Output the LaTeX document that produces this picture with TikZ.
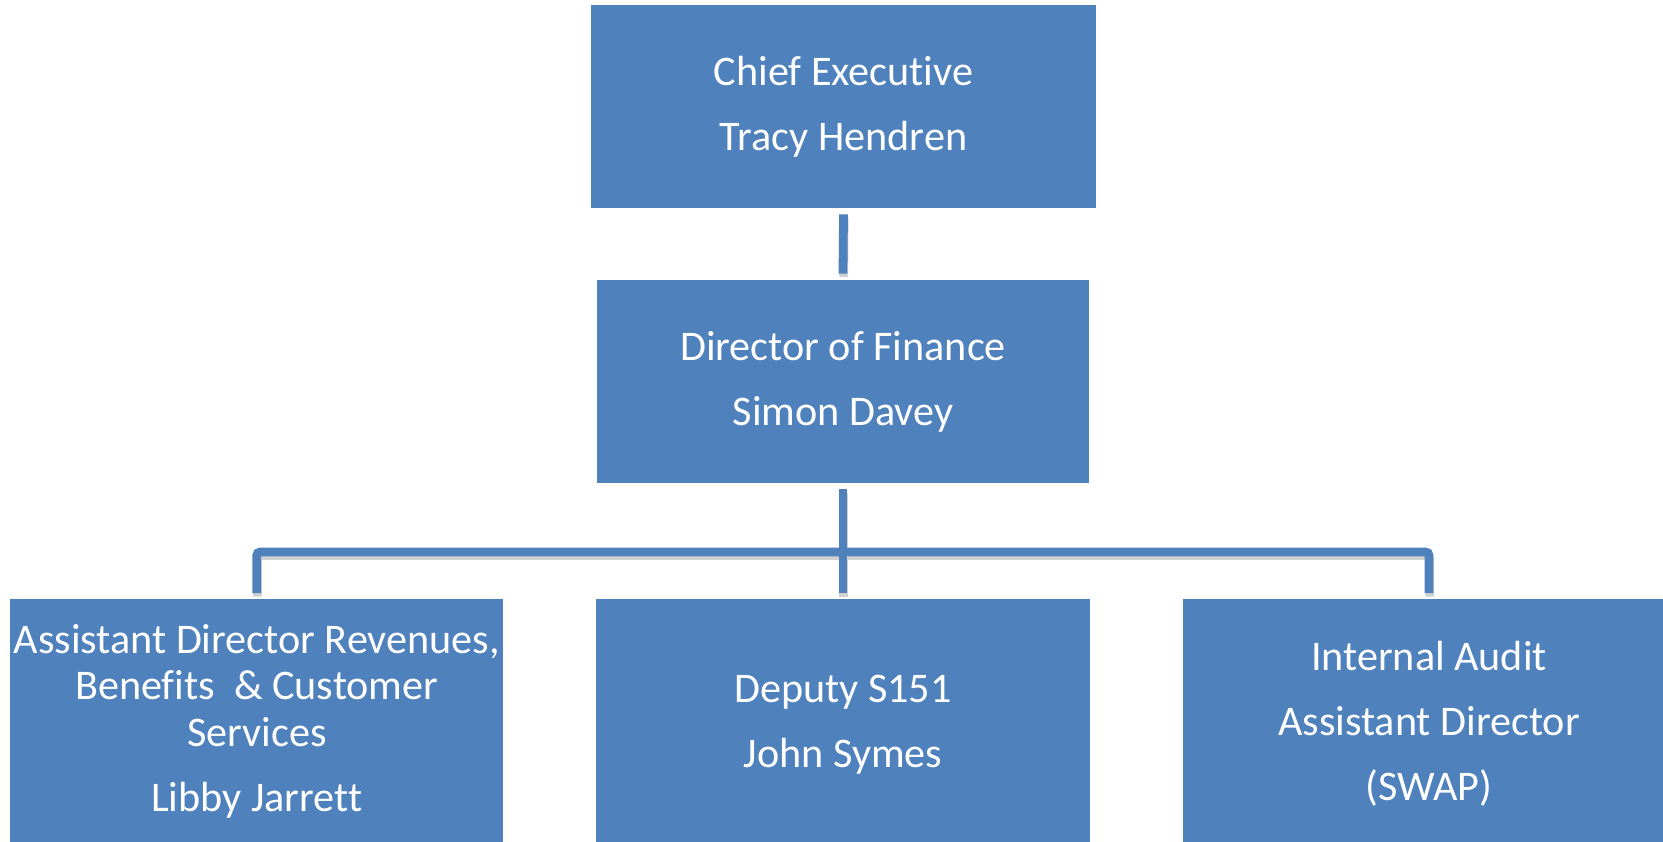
\documentclass[tikz,border=0pt]{standalone}
\usepackage{fontspec}
\setmainfont[Ligatures=NoCommon, Contextuals=NoAlternate, RawFeature={-liga;-clig;-calt}]{Carlito}
\definecolor{boxblue}{HTML}{4F81BD}
\begin{document}
\begin{tikzpicture}[
		box/.style={fill=boxblue, text=white, align=center, inner sep=0pt, minimum height=4.06cm,
			font=\fontsize{24}{26.5}\selectfont},
		link/.style={draw=boxblue, line width=5pt, rounded corners=2pt,
			preaction={draw=black!18, line width=5pt, transform canvas={shift={(0.4pt,-2pt)}}}}]
		\clip (0, 0) rectangle (33.26, -16.82);
		\node[box, minimum width=10.1cm] (ceo) at (16.87, -2.13) {Chief Executive\\[10.5pt]Tracy Hendren};
		\node[box, minimum width=9.84cm] (dof) at (16.86, -7.63) {Director of Finance\\[10.5pt]Simon Davey};
		\node[box, anchor=north, minimum width=9.85cm, minimum height=4.88cm] (rev) at (5.135, -11.98)
			{Assistant Director Revenues,\\Benefits \ \& Customer\\Services\\[10.5pt]Libby Jarrett};
		\node[box, anchor=north, minimum width=9.88cm, minimum height=5.0cm] (dep) at (16.86, -11.98)
			{Deputy S151\\[10.5pt]John Symes};
		\node[box, anchor=north, minimum width=9.84cm, minimum height=4.96cm] (audit) at (28.58, -11.98)
			{Internal Audit\\[10.5pt]Assistant Director\\[10.5pt](SWAP)};
		\coordinate (bus) at (16.86, -11.04);
		\draw[link] ([yshift=-0.12cm]ceo.south) -- ([yshift=0.12cm]dof.north);
		\draw[link] ([yshift=-0.12cm]dof.south) -- (bus);
		\draw[link] ([yshift=0.12cm]rev.north) |- (bus) -| ([yshift=0.12cm]audit.north);
		\draw[link] (bus) -- ([yshift=0.12cm]dep.north);
	\end{tikzpicture}
\end{document}
